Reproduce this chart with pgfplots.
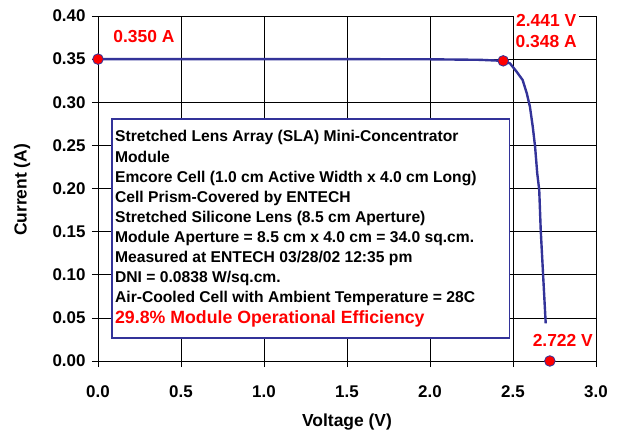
\documentclass[border=0pt]{standalone}
\usepackage{pgfplots}
\pgfplotsset{compat=1.18}
\usepackage{fontspec}
\setmainfont{Liberation Sans}
\definecolor{navy}{RGB}{51,51,153}
\definecolor{myred}{RGB}{255,0,0}
\begin{document}
\begin{tikzpicture}
\useasboundingbox (-98bp,-71bp) rectangle (520bp,361bp);
\begin{axis}[
  at={(0,0)}, anchor=south west,
  scale only axis, width=498bp, height=345bp,
  xmin=0, xmax=3, ymin=0, ymax=0.4,
  xtick={0,0.5,...,3.0}, ytick={0,0.05,...,0.4},
  xtick pos=bottom, ytick pos=left,
  grid=major, major grid style={black, line width=0.6pt},
  axis line style={black, line width=0.8pt},
  tick align=outside, major tick length=6bp,
  tick style={black, line width=0.6pt},
  /pgf/number format/assume math mode=true,
  xticklabel={\pgfmathprintnumber[fixed,fixed zerofill,precision=1]{\tick}},
  yticklabel={\pgfmathprintnumber[fixed,fixed zerofill,precision=2]{\tick}},
  ticklabel style={font=\fontsize{17}{20}\selectfont\bfseries},
  xticklabel style={yshift=-15bp},
  yticklabel style={xshift=-3bp},
  clip=false,
]
\addplot[navy, line width=2.4pt, mark=none, line join=round] coordinates {
(0,0.350) (0.5,0.350) (1.0,0.350) (1.5,0.350) (2.0,0.3498) (2.3,0.3492)
(2.441,0.348) (2.482,0.345) (2.522,0.3354) (2.558,0.3258) (2.583,0.3104)
(2.602,0.2948) (2.619,0.2717) (2.633,0.2485) (2.646,0.2176) (2.658,0.1983)
(2.667,0.1519) (2.683,0.0939) (2.697,0.0437)
};
\addplot[only marks, mark=*, mark size=5.3bp, mark options={fill=myred, draw=navy, line width=0.8pt}] coordinates {
(0,0.350) (2.441,0.348) (2.722,0)
};
% info box
\draw[navy, line width=1.2pt, fill=white] (axis cs:0.084,0.0267) rectangle (axis cs:2.48,0.2806);
\begin{scope}[every node/.style={anchor=base west, inner sep=0pt, font=\fontsize{15.7}{18}\selectfont\bfseries}]
\node at (axis cs:0.102,0.2543) {Stretched Lens Array (SLA) Mini-Concentrator};
\node at (axis cs:0.102,0.2307) {Module};
\node at (axis cs:0.102,0.2070) {Emcore Cell (1.0 cm Active Width x 4.0 cm Long)};
\node at (axis cs:0.102,0.1838) {Cell Prism-Covered by ENTECH};
\node at (axis cs:0.102,0.1606) {Stretched Silicone Lens (8.5 cm Aperture)};
\node at (axis cs:0.102,0.1374) {Module Aperture = 8.5 cm x 4.0 cm = 34.0 sq.cm.};
\node at (axis cs:0.102,0.1142) {Measured at ENTECH 03/28/02 12:35 pm};
\node at (axis cs:0.102,0.0910) {DNI = 0.0838 W/sq.cm.};
\node at (axis cs:0.102,0.0678) {Air-Cooled Cell with Ambient Temperature = 28C};
\node[text=myred, font=\fontsize{17.8}{20}\selectfont\bfseries] at (axis cs:0.102,0.0435) {29.8\% Module Operational Efficiency};
\end{scope}
% red labels
\begin{scope}[every node/.style={text=myred, font=\fontsize{17.5}{22}\selectfont\bfseries}]
\node[anchor=center] at (axis cs:0.277,0.3757) {0.350 A};
\node[fill=white, align=center, inner sep=2bp] at (axis cs:2.70,0.3826) {2.441 V\\0.348 A};
\node[fill=white, anchor=center, inner sep=2bp] at (axis cs:2.80,0.0243) {2.722 V};
\end{scope}
\node[rotate=90, font=\fontsize{17.5}{20}\selectfont\bfseries] at (rel axis cs:-0.1526,0.496) {Current (A)};
\node[font=\fontsize{17.5}{20}\selectfont\bfseries] at (rel axis cs:0.5,-0.177) {Voltage (V)};
\end{axis}
\end{tikzpicture}
\end{document}
